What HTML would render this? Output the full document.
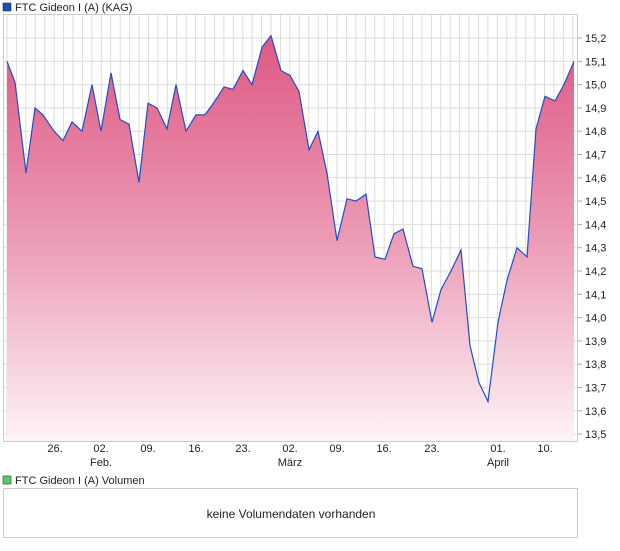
<!DOCTYPE html>
<html><head><meta charset="utf-8"><style>
body{margin:0;background:#fff;font-family:"Liberation Sans",sans-serif;}
svg text{font-family:"Liberation Sans",sans-serif;font-size:11px;fill:#222;}
</style></head><body>
<svg id="s" width="620" height="546" xmlns="http://www.w3.org/2000/svg">
<defs><linearGradient id="g" x1="0" y1="0" x2="0" y2="1">
<stop offset="0" stop-color="#de5884"/><stop offset="0.5" stop-color="#ec9bb5"/><stop offset="1" stop-color="#fdf3f6"/></linearGradient></defs>
<rect x="3" y="3" width="8" height="8" fill="#1f4fb5" stroke="#234" stroke-width="0.6"/>
<text x="15" y="11">FTC Gideon I (A) (KAG)</text>
<g id="grid"></g>
<path id="area" fill="url(#g)"/>
<path id="line" fill="none" stroke="#1f4fc8" stroke-width="1.2"/>
<rect x="3.5" y="14.5" width="574" height="427" fill="none" stroke="#ccc"/>
<g id="ax"></g>
<rect x="3" y="476" width="8" height="8" fill="#5fc85f" stroke="#234" stroke-width="0.6"/>
<text x="15" y="484">FTC Gideon I (A) Volumen</text>
<rect x="3.5" y="488.5" width="574" height="49" fill="#fff" stroke="#ccc"/>
<text x="291" y="518" text-anchor="middle" style="font-size:12px">keine Volumendaten vorhanden</text>
</svg>
<script>
var d=[[7,15.1],[15,15.01],[26,14.62],[35,14.9],[43,14.87],[54,14.8],[63,14.76],[72,14.84],[82,14.8],[92,15.0],[101,14.8],[111,15.05],[120,14.85],[129,14.83],[139,14.58],[148,14.92],[157,14.9],[167,14.81],[176,15.0],[186,14.8],[196,14.87],[205,14.87],[215,14.93],[224,14.99],[233,14.98],[243,15.06],[252,15.0],[262,15.16],[271,15.21],[281,15.06],[290,15.04],[299,14.97],[309,14.72],[318,14.8],[327,14.62],[337,14.33],[347,14.51],[356,14.5],[366,14.53],[375,14.26],[385,14.25],[394,14.36],[403,14.38],[413,14.22],[422,14.21],[432,13.98],[441,14.12],[451,14.2],[461,14.29],[470,13.88],[479,13.72],[488,13.64],[498,13.98],[507,14.16],[517,14.3],[527,14.26],[536,14.81],[545,14.95],[555,14.93],[564,15.0],[574,15.1]];
function Y(v){return 38+(15.2-v)*233;}
var p=d.map(function(a,i){return (i?'L':'M')+a[0]+','+Y(a[1]).toFixed(1)}).join('');
document.getElementById('line').setAttribute('d',p);
document.getElementById('area').setAttribute('d',p+'L574,441L7,441Z');
var g='',ax='';
for(var x=7;x<578;x+=9.43)g+='<line x1="'+x.toFixed(1)+'" y1="14" x2="'+x.toFixed(1)+'" y2="441" stroke="#ddd"/>';
for(var i=0;i<=17;i++){var v=15.2-i*0.1,y=Y(v);g+='<line x1="3" y1="'+y.toFixed(1)+'" x2="578" y2="'+y.toFixed(1)+'" stroke="#ddd"/>';
ax+='<line x1="578" y1="'+y.toFixed(1)+'" x2="582" y2="'+y.toFixed(1)+'" stroke="#aaa"/><text x="585" y="'+(y+4).toFixed(1)+'">'+v.toFixed(1).replace('.',',')+'</text>';}
var t=[[55,'26.'],[101,'02.'],[148,'09.'],[196,'16.'],[243,'23.'],[290,'02.'],[337,'09.'],[384,'16.'],[432,'23.'],[498,'01.'],[545,'10.']];
t.forEach(function(a){ax+='<text x="'+a[0]+'" y="452" text-anchor="middle">'+a[1]+'</text>';});
[[101,'Feb.'],[290,'März'],[498,'April']].forEach(function(a){ax+='<text x="'+a[0]+'" y="466" text-anchor="middle">'+a[1]+'</text>';});
document.getElementById('grid').innerHTML=g;
document.getElementById('ax').innerHTML=ax;
</script>
</body></html>
